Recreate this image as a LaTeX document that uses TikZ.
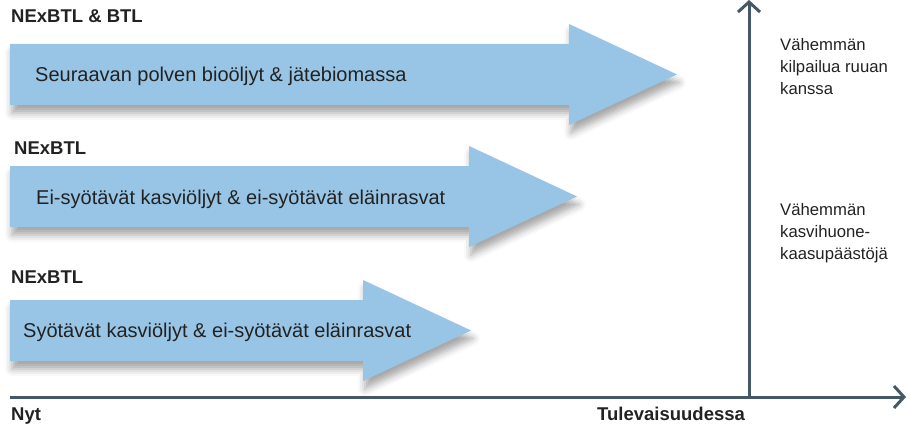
\documentclass[tikz,border=0pt]{standalone}
\usepackage{fontspec}
\setmainfont{Liberation Sans}
\usetikzlibrary{arrows.meta,shadows.blur}
\definecolor{arrowblue}{RGB}{152,197,230}
\definecolor{axisgray}{RGB}{68,88,104}
\definecolor{textgray}{RGB}{34,34,34}
\tikzset{
  band/.style ={fill=arrowblue, blur shadow={shadow xshift=2pt, shadow yshift=-8pt,
                 shadow blur radius=7pt, shadow opacity=35}},
  axis/.style ={line width=3pt, draw=axisgray, -{Straight Barb[length=10pt,width=22pt]}},
  tag/.style  ={anchor=base west, inner sep=0pt, text=textgray,
                 font=\fontsize{18.5}{22}\selectfont\bfseries},
  feed/.style ={anchor=base west, inner sep=0pt, text=textgray,
                 font=\fontsize{20}{24}\selectfont},
  gain/.style ={anchor=north west, inner sep=0pt, align=left, text=textgray,
                 font=\fontsize{16.7}{22}\selectfont}
}
\begin{document}
\begin{tikzpicture}[x=1pt,y=-1pt]
\useasboundingbox (0,0) rectangle (910,425);
% Feedstock arrows (top of shaft / start of head)
\foreach \t/\h in {44/569,166/469,300/363}{
  \fill[band] (10,\t) -- (\h,\t) -- (\h,\t-20) -- (\h+108,\t+30.5)
    -- (\h,\t+81) -- (\h,\t+61) -- (10,\t+61) -- cycle;
}
\node[tag] (tag1) at (11,23)  {NExBTL \& BTL};
\node[tag] (tag2) at (14,154) {NExBTL};
\node[tag] (tag3) at (11,283) {NExBTL};
\node[feed] (feed1) at (35,82)  {Seuraavan polven bioöljyt \& jätebiomassa};
\node[feed] (feed2) at (36,204) {Ei-syötävät kasviöljyt \& ei-syötävät eläinrasvat};
\node[feed] (feed3) at (23,337) {Syötävät kasviöljyt \& ei-syötävät eläinrasvat};

% Axes
\coordinate (orig) at (749,397);
\coordinate (nyt0) at (10,397);
\coordinate (xend) at (906,397);
\coordinate (yend) at (749,0);
\draw[axis] (nyt0) -- (xend);
\draw[axis] (orig) -- (yend);
\node[tag] (nyt) at (11,420) {Nyt};
\node[tag] (tul) at (597,420) {Tulevaisuudessa};

% Benefits
\node[gain] (gain1) at (780,38) {Vähemmän\\kilpailua ruuan\\kanssa};
\node[gain] (gain2) at (780,203) {Vähemmän\\kasvihuone-\\kaasupäästöjä};
\end{tikzpicture}
\end{document}
